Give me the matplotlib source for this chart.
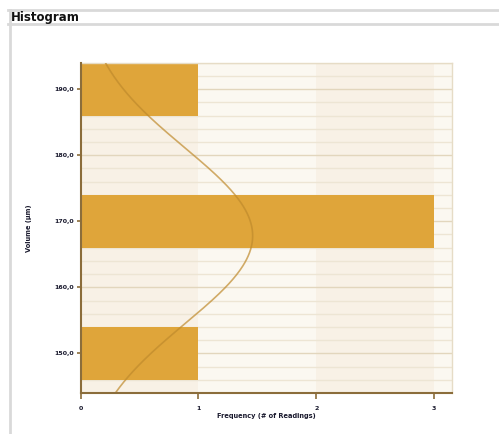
import numpy as np
import matplotlib
matplotlib.use("Agg")
import matplotlib.pyplot as plt
from matplotlib.lines import Line2D

# ---- data ----
bin_centers = [150, 170, 190]
bin_counts = [1, 3, 1]
bin_width = 8
fit_mean = 167.8
fit_sd = 13.3
fit_peak = 1.46
y_ticks = [150, 160, 170, 180, 190]
y_tick_labels = ["150,0", "160,0", "170,0", "180,0", "190,0"]
x_ticks = [0, 1, 2, 3]
x_tick_labels = ["0", "1", "2", "3"]
title = "Histogram"
x_label = "Frequency (# of Readings)"
y_label = "Volume (µm)"

W, H = 499, 434
fig = plt.figure(figsize=(W / 100, H / 100), dpi=100)
fig.patch.set_facecolor("white")

ax = fig.add_axes([80.7 / W, 1 - 393 / H, (452.3 - 80.7) / W, (393 - 62.7) / H])
ax.set_xlim(0, 3.155)
ax.set_ylim(144, 194)
ax.set_facecolor("#fbf8f1")

# alternating vertical bands
for i in range(4):
    if i % 2 == 0:
        ax.axvspan(i, i + 1, color="#f8f1e6", zorder=0, lw=0)

# horizontal grid lines
for yv in np.arange(144, 195, 2):
    major = (yv % 10 == 0)
    ax.axhline(yv, color="#e2d6bd" if major else "#ede5d4", lw=1.0, zorder=1)

# bars
ax.barh(bin_centers, bin_counts, height=bin_width, color="#dfa53a", zorder=2, lw=0)

# normal fit curve
yy = np.linspace(144, 194, 300)
xx = fit_peak * np.exp(-((yy - fit_mean) ** 2) / (2 * fit_sd ** 2))
ax.plot(xx, yy, color="#bf8a2c", lw=1.2, alpha=0.7, zorder=3)

# spines
for s in ["top", "right"]:
    ax.spines[s].set_color("#e6dcc6")
    ax.spines[s].set_linewidth(1.0)
for s in ["left", "bottom"]:
    ax.spines[s].set_color("#8b6d3b")
    ax.spines[s].set_linewidth(1.5)
    ax.spines[s].set_zorder(5)

ax.set_yticks(y_ticks)
ax.set_yticklabels(y_tick_labels)
ax.set_xticks(x_ticks)
ax.set_xticklabels(x_tick_labels)
ax.tick_params(axis="y", length=3, width=1.2, color="#8b6d3b", pad=2,
               labelsize=4.5, labelcolor="#1a1a2e")
ax.tick_params(axis="x", length=4, width=1.2, color="#8b6d3b", pad=5,
               labelsize=4.5, labelcolor="#1a1a2e")
for lab in ax.get_xticklabels() + ax.get_yticklabels():
    lab.set_fontweight("bold")

ax.set_xlabel(x_label, fontsize=4.8, fontweight="bold", color="#1a1a2e", labelpad=2)
ax.set_ylabel(y_label, fontsize=4.8, fontweight="bold", color="#1a1a2e", labelpad=16)

# panel frame and title
fig.add_artist(Line2D([8 / W, 1], [1 - 10 / H, 1 - 10 / H], color="#d9d9d9", lw=2))
fig.add_artist(Line2D([8 / W, 1], [1 - 24 / H, 1 - 24 / H], color="#d9d9d9", lw=2))
fig.add_artist(Line2D([9.5 / W, 9.5 / W], [1 - 10 / H, 0], color="#d9d9d9", lw=2))
fig.text(11 / W, 1 - 17.5 / H, title, fontsize=8.5, fontweight="bold",
         color="#111111", va="center", ha="left")

fig.savefig("out.png", dpi=100, facecolor="white")
